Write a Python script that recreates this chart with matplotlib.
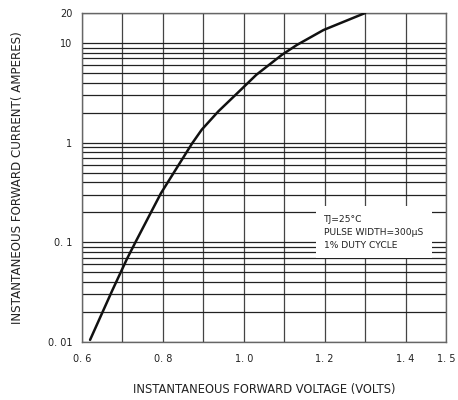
import matplotlib
matplotlib.use('Agg')
import matplotlib.pyplot as plt
from matplotlib.ticker import FixedLocator, LogLocator, NullFormatter

# forward characteristic
volts = [0.62, 0.675, 0.711, 0.732, 0.770, 0.795, 0.838, 0.872, 0.896, 0.937, 0.984, 1.031, 1.094, 1.131, 1.197, 1.30]
amps = [0.0105, 0.033, 0.068, 0.1, 0.198, 0.31, 0.59, 0.98, 1.35, 2.06, 3.14, 4.8, 7.6, 9.55, 13.5, 20.0]

xticks = [0.6, 0.8, 1.0, 1.2, 1.4, 1.5]
xlabels = ['0. 6', '0. 8', '1. 0', '1. 2', '1. 4', '1. 5']
yticks = [0.01, 0.1, 1, 10, 20]
ylabels = ['0. 01', '0. 1', '1', '10', '20']
xgrid = [0.7, 0.8, 0.9, 1.0, 1.1, 1.2, 1.3, 1.4]

note = 'TJ=25°C\nPULSE WIDTH=300μS\n1% DUTY CYCLE'

fig = plt.figure(figsize=(4.58, 4.0), dpi=100)
ax = fig.add_axes([0.179, 0.145, 0.795, 0.8225])

ax.set_yscale('log')
ax.set_xlim(0.6, 1.5)
ax.set_ylim(0.01, 20)

# grid: decades + minor 2..9 horizontally, every 0.1 V vertically
ax.yaxis.set_minor_locator(LogLocator(base=10, subs=range(2, 10)))
ax.yaxis.set_minor_formatter(NullFormatter())
ax.xaxis.set_minor_locator(FixedLocator(xgrid))
ax.grid(True, which='both', axis='y', color='#222222', linewidth=0.9)
ax.grid(True, which='both', axis='x', color='#444444', linewidth=0.9)
ax.set_axisbelow(True)

ax.plot(volts, amps, color='#111111', linewidth=1.8, zorder=3,
        solid_joinstyle='round', solid_capstyle='round')

ax.set_xticks(xticks)
ax.set_xticklabels(xlabels)
ax.set_yticks(yticks)
ax.set_yticklabels(ylabels)
ax.tick_params(which='both', length=0, labelsize=7, colors='#222222')
ax.tick_params(axis='x', pad=9)
ax.tick_params(axis='y', pad=7)

for s in ax.spines.values():
    s.set_color('#666666')
    s.set_linewidth(1.0)

ax.set_xlabel('INSTANTANEOUS FORWARD VOLTAGE (VOLTS)', fontsize=8.3, color='#222222')
ax.set_ylabel('INSTANTANEOUS FORWARD CURRENT( AMPERES)', fontsize=8.6, color='#222222')
ax.xaxis.set_label_coords(0.5, -0.125)
ax.yaxis.set_label_coords(-0.158, 0.5)

ax.text(1.199, 0.19, note, fontsize=6.6, color='#222222', va='top', ha='left', linespacing=1.6,
        bbox=dict(facecolor='white', edgecolor='none', pad=6), zorder=4)

fig.savefig('out.png', dpi=100)
